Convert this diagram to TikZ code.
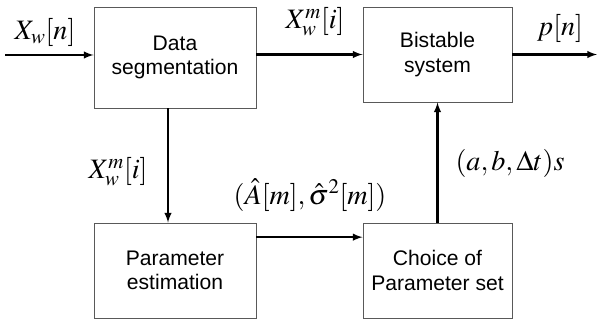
\documentclass[tikz,border=0pt]{standalone}
\usepackage{fontspec}
\usepackage{amsmath, amssymb}
\usepackage{mathptmx}
\setmainfont{Liberation Sans}
\usepackage{tikz}

\begin{document}
\begin{tikzpicture}[x=0.03cm, y=-0.03cm, >=latex]
    \useasboundingbox (0, 0) rectangle (597, 320);

    \tikzset{blk/.style={draw=black!65, line width=0.8pt, align=center, font=\fontsize{18}{21}\selectfont, inner sep=0pt},
             sig/.style={line width=1.8pt},
             lbl/.style={font=\fontsize{24}{28}\selectfont, inner sep=0pt}}

    \node[blk, minimum width=4.86cm, minimum height=3.03cm] at (175, 57.5) (seg) {Data\\segmentation};
    \node[blk, minimum width=4.47cm, minimum height=2.85cm] at (437.5, 54.5) (bist) {Bistable\\system};
    \node[blk, minimum width=4.86cm, minimum height=2.85cm] at (175, 270.5) (est) {Parameter\\estimation};
    \node[blk, minimum width=4.47cm, minimum height=2.85cm] at (437.5, 270.5) (choice) {Choice of\\Parameter set};

    \coordinate (in) at (5, 55);
    \coordinate (out) at (597, 54.5);

    \node[lbl] at (45, 32) (lin) {$X_w[n]$};
    \node[lbl] at (315, 22) (lseg) {$X_w^m[i]$};
    \node[lbl] at (560, 28) (lout) {$p[n]$};
    \node[lbl] at (118, 172) (ldown) {$X_w^m[i]$};
    \node[lbl] at (310, 195) (lest) {$(\hat{A}[m], \hat{\sigma}^2[m])$};
    \node[lbl] at (510, 163) (lpar) {$(a, b, \Delta t)s$};

    \draw[sig, ->] (in) -- (in -| seg.west);
    \draw[sig, ->] (seg.east |- bist) -- (bist.west);
    \draw[sig, ->] (bist.east) -- (out);
    \draw[sig, ->] ([xshift=-0.21cm]seg.south) -- ([xshift=-0.21cm]est.north);
    \draw[sig, ->] ([yshift=1cm]est.east) -- ([yshift=1cm]choice.west);
    \draw[sig, ->] (choice) -- (bist);
\end{tikzpicture}
\end{document}
